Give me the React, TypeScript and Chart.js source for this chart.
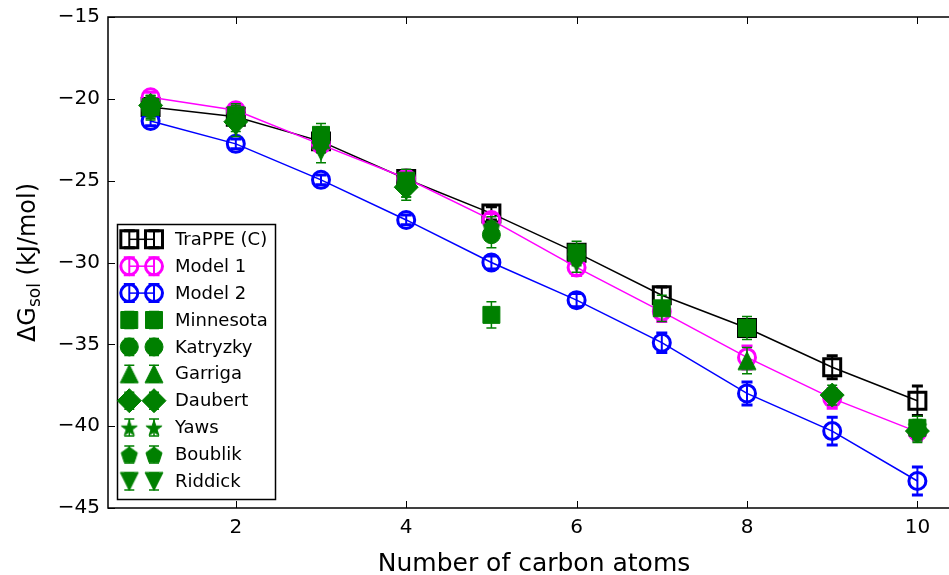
import React, { useEffect, useRef } from 'react';
import { Chart, registerables } from 'chart.js';
import { drawPoint } from 'chart.js/helpers';

Chart.register(...registerables);

// ---------------- data ----------------
const carbons = [1, 2, 3, 4, 5, 6, 7, 8, 9, 10];
const xTicks = [2, 4, 6, 8, 10];
const yTicks = [-45, -40, -35, -30, -25, -20, -15];

const trappe = [-20.5, -21.1, -22.6, -24.9, -27.0, -29.4, -32.0, -34.0, -36.4, -38.45];
const trappeErr = [0.3, 0.3, 0.4, 0.4, 0.4, 0.5, 0.5, 0.5, 0.7, 0.9];
const model1 = [-19.9, -20.7, -22.8, -24.85, -27.4, -30.3, -33.0, -35.8, -38.3, -40.35];
const model1Err = [0.3, 0.3, 0.4, 0.4, 0.4, 0.5, 0.6, 0.7, 0.6, 0.5];
const model2 = [-21.35, -22.75, -24.95, -27.4, -30.0, -32.3, -34.9, -38.0, -40.3, -43.35];
const model2Err = [0.3, 0.3, 0.3, 0.3, 0.4, 0.4, 0.6, 0.7, 0.85, 0.85];

const minnesota = [-20.5, -21.0, -22.2, -25.0, -33.2, -29.4, -32.8, -34.0, null, -40.1];
const minnesotaErr = [0.7, 0.7, 0.7, 0.7, 0.8, 0.7, 0.8, 0.7, 0, 0.7];
const katryzky = [-20.6, null, null, -25.3, -28.3, null, null, null, null, null];
const katryzkyErr = [0.7, 0, 0, 0.7, 0.8, 0, 0, 0, 0, 0];
const garriga = [null, null, -22.5, null, null, null, null, -36.0, null, null];
const garrigaErr = [0, 0, 0.8, 0, 0, 0, 0, 0.8, 0, 0];
const daubert = [-20.4, -21.4, null, -25.4, null, null, null, null, -38.1, -40.3];
const daubertErr = [0.6, 0.6, 0, 0.6, 0, 0, 0, 0, 0.6, 0.6];
const yaws = [null, -21.0, null, -25.2, null, null, null, null, null, null];
const yawsErr = [0, 0.6, 0, 0.6, 0, 0, 0, 0, 0, 0];
const boublik = [-20.5, null, null, null, -27.8, -29.6, null, null, null, -40.2];
const boublikErr = [0.6, 0, 0, 0, 0.6, 0.6, 0, 0, 0, 0.6];
const riddick = [null, -21.7, -23.2, -25.6, null, -30.0, null, null, null, -40.4];
const riddickErr = [0, 0.6, 0.7, 0.6, 0, 0.6, 0, 0, 0, 0.6];

const seriesLabels = ['TraPPE (C)', 'Model 1', 'Model 2', 'Minnesota', 'Katryzky', 'Garriga', 'Daubert', 'Yaws', 'Boublik', 'Riddick'];
const seriesValues = [trappe, model1, model2, minnesota, katryzky, garriga, daubert, yaws, boublik, riddick];
const seriesErrors = [trappeErr, model1Err, model2Err, minnesotaErr, katryzkyErr, garrigaErr, daubertErr, yawsErr, boublikErr, riddickErr];

// ---------------- styles ----------------
const GREEN = '#008000';
const FONT = "'DejaVu Sans', 'Liberation Sans', sans-serif";
const CLEAR = 'rgba(0,0,0,0)';

function makeShape(kind: string): HTMLCanvasElement {
  const s = 24;
  const c = document.createElement('canvas');
  c.width = s;
  c.height = s;
  const g = c.getContext('2d')!;
  const m = s / 2;
  g.beginPath();
  if (kind === 'triUp') {
    g.moveTo(m, m - 9);
    g.lineTo(m + 9, m + 9);
    g.lineTo(m - 9, m + 9);
  } else if (kind === 'triDown') {
    g.moveTo(m, m + 9);
    g.lineTo(m + 9, m - 9);
    g.lineTo(m - 9, m - 9);
  } else if (kind === 'star') {
    for (let i = 0; i < 10; i++) {
      const r = i % 2 ? 8.5 * 0.382 : 8.5;
      const a = -Math.PI / 2 + (i * Math.PI) / 5;
      const px = m + r * Math.cos(a);
      const py = m + 1 + r * Math.sin(a);
      if (i === 0) g.moveTo(px, py);
      else g.lineTo(px, py);
    }
  } else if (kind === 'pentagon') {
    for (let i = 0; i < 5; i++) {
      const r = 8.5;
      const a = -Math.PI / 2 + (i * 2 * Math.PI) / 5;
      const px = m + r * Math.cos(a);
      const py = m + 1 + r * Math.sin(a);
      if (i === 0) g.moveTo(px, py);
      else g.lineTo(px, py);
    }
  }
  g.closePath();
  g.fillStyle = GREEN;
  g.fill();
  g.strokeStyle = GREEN;
  g.lineWidth = 1;
  g.stroke();
  return c;
}

type SeriesStyle = {
  color: string;
  fill: string;
  style: any;
  radius: number;
  border: number;
  line: boolean;
  barLw: number;
  capLw: number;
  capW: number;
};

function buildStyles(): SeriesStyle[] {
  const hollow = (color: string, style: string, radius: number): SeriesStyle => ({
    color, fill: CLEAR, style, radius, border: 3, line: true, barLw: 2, capLw: 3, capW: 11,
  });
  const solid = (style: any, radius: number): SeriesStyle => ({
    color: GREEN, fill: GREEN, style, radius, border: 1, line: false, barLw: 1.5, capLw: 1.5, capW: 10,
  });
  return [
    hollow('#000000', 'rect', 12),
    hollow('#ff00ff', 'circle', 8.5),
    hollow('#0000ff', 'circle', 8.5),
    solid('rect', 12),
    solid('circle', 9),
    solid(makeShape('triUp'), 9),
    solid('rectRot', 12),
    solid(makeShape('star'), 8),
    solid(makeShape('pentagon'), 8),
    solid(makeShape('triDown'), 9),
  ];
}

const CANVAS_W = 975;
const CANVAS_H = 575;

export default function App() {
  const ref = useRef<HTMLCanvasElement | null>(null);

  useEffect(() => {
    if (!ref.current) return;
    const styles = buildStyles();

    const mplPlugin = {
      id: 'mplDecor',
      beforeDatasetDraw(chart: any, args: any) {
        const i = args.index;
        const st = styles[i];
        const vals = seriesValues[i];
        const errs = seriesErrors[i];
        const ctx = chart.ctx;
        const xs = chart.scales.x;
        const ys = chart.scales.y;
        ctx.save();
        ctx.strokeStyle = st.color;
        carbons.forEach((c, j) => {
          const v = vals[j];
          const e = errs[j];
          if (v === null || !e) return;
          const px = xs.getPixelForValue(c);
          const y1 = ys.getPixelForValue(v + e);
          const y2 = ys.getPixelForValue(v - e);
          ctx.lineWidth = st.barLw;
          ctx.beginPath();
          ctx.moveTo(px, y1);
          ctx.lineTo(px, y2);
          ctx.stroke();
          ctx.lineWidth = st.capLw;
          ctx.beginPath();
          ctx.moveTo(px - st.capW / 2, y1);
          ctx.lineTo(px + st.capW / 2, y1);
          ctx.moveTo(px - st.capW / 2, y2);
          ctx.lineTo(px + st.capW / 2, y2);
          ctx.stroke();
        });
        ctx.restore();
      },
      afterDatasetsDraw(chart: any) {
        const ctx = chart.ctx;
        const { left, right, top, bottom } = chart.chartArea;
        const xs = chart.scales.x;
        const ys = chart.scales.y;
        ctx.save();
        // ticks (inward)
        ctx.strokeStyle = '#000';
        ctx.lineWidth = 1;
        ctx.beginPath();
        xTicks.forEach((t) => {
          const px = Math.round(xs.getPixelForValue(t)) + 0.5;
          ctx.moveTo(px, bottom);
          ctx.lineTo(px, bottom - 7);
          ctx.moveTo(px, top);
          ctx.lineTo(px, top + 7);
        });
        yTicks.forEach((t) => {
          const py = Math.round(ys.getPixelForValue(t)) + 0.5;
          ctx.moveTo(left, py);
          ctx.lineTo(left + 7, py);
          ctx.moveTo(right, py);
          ctx.lineTo(right - 7, py);
        });
        ctx.stroke();
        // frame
        ctx.lineWidth = 1.5;
        ctx.strokeRect(left, top, right - left, bottom - top);

        // tick labels
        ctx.fillStyle = '#000';
        ctx.font = `20px ${FONT}`;
        ctx.textAlign = 'right';
        ctx.textBaseline = 'middle';
        yTicks.forEach((t) => {
          ctx.fillText(String(t).replace('-', '\u2212'), left - 8, ys.getPixelForValue(t));
        });
        ctx.textAlign = 'center';
        ctx.textBaseline = 'top';
        xTicks.forEach((t) => {
          ctx.fillText(String(t), xs.getPixelForValue(t), bottom + 10);
        });

        // x title
        ctx.font = `25px ${FONT}`;
        ctx.textBaseline = 'alphabetic';
        ctx.fillText('Number of carbon atoms', (left + right) / 2, 571);

        // y title
        ctx.save();
        ctx.translate(35, (top + bottom) / 2);
        ctx.rotate(-Math.PI / 2);
        const big = `24px ${FONT}`;
        const small = `17px ${FONT}`;
        ctx.font = big;
        const w1 = ctx.measureText('\u0394G').width;
        const w3 = ctx.measureText(' (kJ/mol)').width;
        ctx.font = small;
        const w2 = ctx.measureText('sol').width;
        const start = -(w1 + w2 + w3) / 2;
        ctx.textAlign = 'left';
        ctx.font = big;
        ctx.fillText('\u0394G', start, 0);
        ctx.font = small;
        ctx.fillText('sol', start + w1, 5);
        ctx.font = big;
        ctx.fillText(' (kJ/mol)', start + w1 + w2, 0);
        ctx.restore();

        // legend
        const lx = 117.5, ly = 224.5, lw = 158, lh = 275;
        ctx.fillStyle = '#fff';
        ctx.fillRect(lx, ly, lw, lh);
        ctx.strokeStyle = '#000';
        ctx.lineWidth = 1.5;
        ctx.strokeRect(lx, ly, lw, lh);
        const m1 = 129.3, m2 = 154;
        seriesLabels.forEach((lab, i) => {
          const st = styles[i];
          const cy = 239.3 + i * 26.9;
          ctx.strokeStyle = st.color;
          if (st.line) {
            ctx.lineWidth = 1.5;
            ctx.beginPath();
            ctx.moveTo(m1, cy);
            ctx.lineTo(m2, cy);
            ctx.stroke();
          }
          [m1, m2].forEach((mx) => {
            ctx.strokeStyle = st.color;
            ctx.lineWidth = st.barLw;
            ctx.beginPath();
            ctx.moveTo(mx, cy - 8.5);
            ctx.lineTo(mx, cy + 8.5);
            ctx.stroke();
            ctx.lineWidth = st.capLw;
            ctx.beginPath();
            ctx.moveTo(mx - st.capW / 2, cy - 8.5);
            ctx.lineTo(mx + st.capW / 2, cy - 8.5);
            ctx.moveTo(mx - st.capW / 2, cy + 8.5);
            ctx.lineTo(mx + st.capW / 2, cy + 8.5);
            ctx.stroke();
            ctx.fillStyle = st.fill;
            ctx.strokeStyle = st.color;
            ctx.lineWidth = st.border;
            drawPoint(ctx, { pointStyle: st.style, rotation: 0, radius: st.radius, borderWidth: st.border } as any, mx, cy);
          });
          ctx.fillStyle = '#000';
          ctx.font = `18px ${FONT}`;
          ctx.textAlign = 'left';
          ctx.textBaseline = 'middle';
          ctx.fillText(lab, 175, cy + 1);
        });
        ctx.restore();
      },
    };

    const datasets = seriesLabels.map((lab, i) => {
      const st = styles[i];
      const vals = seriesValues[i];
      return {
        label: lab,
        data: carbons
          .map((c, j) => ({ x: c, y: vals[j] }))
          .filter((p) => p.y !== null),
        showLine: st.line,
        borderColor: st.color,
        borderWidth: 1.5,
        backgroundColor: st.fill,
        pointStyle: st.style,
        pointRadius: st.radius,
        pointBorderWidth: st.border,
        pointBorderColor: st.color,
        pointBackgroundColor: st.fill,
        pointRotation: 0,
        order: seriesLabels.length - i,
      };
    });

    const chart = new Chart(ref.current, {
      type: 'scatter',
      data: { datasets: datasets as any },
      options: {
        responsive: false,
        animation: false,
        events: [],
        layout: { padding: { left: 108, right: CANVAS_W - 961, top: 17, bottom: CANVAS_H - 508 } },
        scales: {
          x: { type: 'linear', min: 0.5, max: 10.5, display: false },
          y: { type: 'linear', min: -45, max: -15, display: false },
        },
        plugins: { legend: { display: false }, tooltip: { enabled: false } },
      },
      plugins: [mplPlugin],
    });
    return () => chart.destroy();
  }, []);

  return (
    <div
      style={{
        position: 'fixed',
        left: 0,
        top: 0,
        width: 949,
        height: 575,
        overflow: 'hidden',
        background: '#fff',
      }}
    >
      <canvas ref={ref} width={CANVAS_W} height={CANVAS_H} style={{ width: CANVAS_W, height: CANVAS_H, display: 'block' }} />
    </div>
  );
}
